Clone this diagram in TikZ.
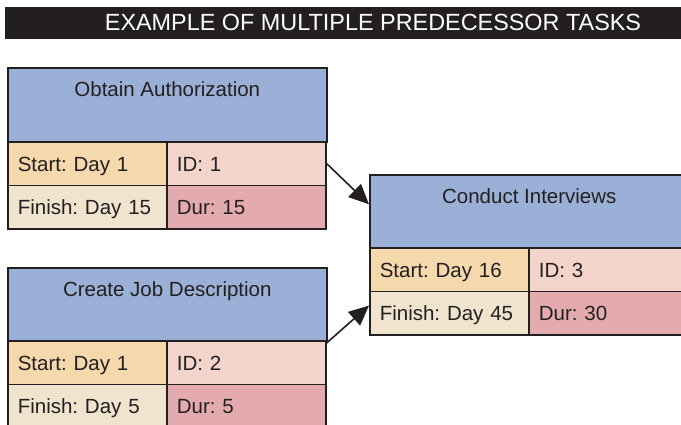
\documentclass[tikz,border=0pt]{standalone}
\usepackage{fontspec}
\setmainfont{Liberation Sans}
\usetikzlibrary{arrows.meta}
\definecolor{ink}{HTML}{231F20}
\definecolor{headblue}{HTML}{9BB0D6}
\definecolor{startc}{HTML}{F5D8AC}
\definecolor{finishc}{HTML}{F0E4CF}
\definecolor{idc}{HTML}{F2D4CB}
\definecolor{durc}{HTML}{E4ABAF}
\frenchspacing
\begin{document}
\begin{tikzpicture}[x=1pt,y=-1pt,
  boxline/.style={draw=ink, line width=1.6pt},
  head/.style={boxline, fill=headblue, anchor=north west, minimum width=319pt,
    minimum height=74pt, inner xsep=0pt, inner ysep=0pt, text height=29pt, text depth=45pt,
    font=\fontsize{20.5}{24}\selectfont, text=ink},
  cell/.style={boxline, anchor=north west, minimum height=43.5pt, text width=139pt,
    inner xsep=10pt, inner ysep=0pt, text height=15pt, text depth=0pt, align=left,
    font=\fontsize{20.5}{24}\selectfont\frenchspacing, text=ink},
  conn/.style={draw=ink, line width=1.6pt, -{Triangle[length=20pt,width=18pt]}}
]
\useasboundingbox (0,0) rectangle (681,424);
\begin{scope}
\clip (0,0) rectangle (681,424);
% title bar
\node[fill=ink, anchor=north west, minimum width=676pt, minimum height=32pt, inner sep=0pt] (bar) at (5,7) {};
\node[text=white, font=\fontsize{23.4}{26}\selectfont, anchor=base] (title) at (373,30) {EXAMPLE OF MULTIPLE PREDECESSOR TASKS};

% task 1
\node[head] (h1) at (7,67) {Obtain Authorization};
\node[cell, fill=startc] (s1) at (7,141) {Start: Day 1};
\node[cell, fill=idc] (i1) at (166,141) {ID: 1};
\node[cell, fill=finishc] (f1) at (7,184.5) {Finish: Day 15};
\node[cell, fill=durc] (d1) at (166,184.5) {Dur: 15};

% task 2
\node[head] (h2) at (7,267) {Create Job Description};
\node[cell, fill=startc] (s2) at (7,340) {Start: Day 1};
\node[cell, fill=idc] (i2) at (166,340) {ID: 2};
\node[cell, fill=finishc] (f2) at (7,383.5) {Finish: Day 5};
\node[cell, fill=durc] (d2) at (166,383.5) {Dur: 5};

% task 3
\node[head] (h3) at (369,174) {Conduct Interviews};
\node[cell, fill=startc] (s3) at (369,247) {Start: Day 16};
\node[cell, fill=idc] (i3) at (528,247) {ID: 3};
\node[cell, fill=finishc] (f3) at (369,290.5) {Finish: Day 45};
\node[cell, fill=durc] (d3) at (528,290.5) {Dur: 30};
\end{scope}

% connectors
\draw[conn] (i1.east) -- ([yshift=7.5pt]h3.west);
\draw[conn] ([yshift=-3pt]i2.north east) -- ([yshift=7.5pt]f3.west);
\end{tikzpicture}
\end{document}
